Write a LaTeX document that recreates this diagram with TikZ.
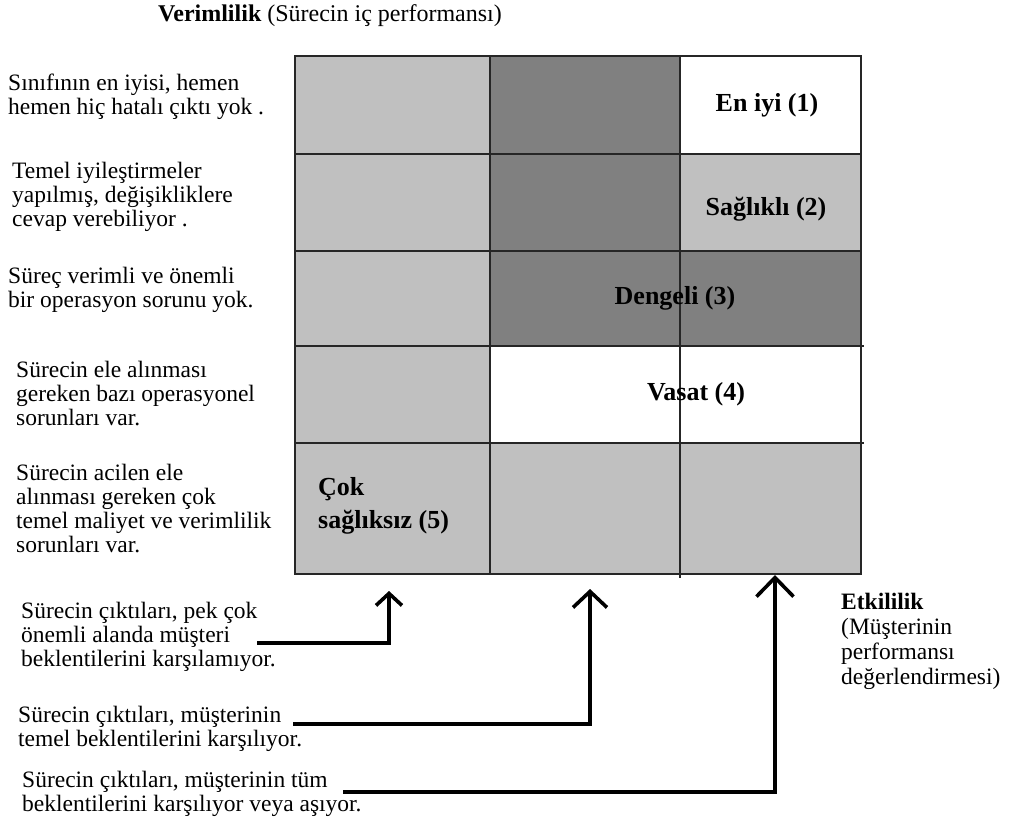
\documentclass[tikz,border=0pt]{standalone}
\usepackage{fontspec}
\setmainfont{Liberation Serif}
\usetikzlibrary{arrows.meta}
\definecolor{cellLight}{HTML}{C0C0C0}
\definecolor{cellDark}{HTML}{808080}
% multi-line nodes sit on the baseline of their last line
\tikzset{
  txt/.style={anchor=base west, inner sep=0pt, align=left,
    font=\fontsize{23.5}{24}\selectfont},
  celltxt/.style={anchor=base, inner sep=0pt,
    font=\fontsize{26}{26}\selectfont\bfseries},
  gridline/.style={line width=1.7pt, draw=black!85},
  thinline/.style={line width=1.1pt, draw=black!85},
  pointer/.style={line width=3.6pt, line cap=butt, line join=miter},
}
\begin{document}
\begin{tikzpicture}[x=1pt, y=-1pt]
\useasboundingbox (0,0) rectangle (1009,825);
\fill[white] (0,0) rectangle (1009,825);

% cell fills: columns 295|490|680|861, rows 56|154|251|346|443|574
\fill[cellLight] (295,56) rectangle (490,574);
\fill[cellDark]  (490,56) rectangle (680,346);
\fill[white]     (680,56) rectangle (861,154);
\fill[cellLight] (680,154) rectangle (861,251);
\fill[cellDark]  (680,251) rectangle (861,346);
\fill[white]     (490,346) rectangle (861,443);
\fill[cellLight] (490,443) rectangle (861,574);

% grid lines
\draw[gridline] (295,154) -- (861,154);
\draw[gridline] (295,251) -- (861,251);
\draw[gridline] (295,346) -- (864,346);
\draw[gridline] (295,443) -- (864,443);
\draw[gridline] (490,56) -- (490,574);
\draw[gridline] (680,56) -- (680,251);
\draw[thinline] (680,251) -- (680,578);
\draw[gridline] (295,56) rectangle (861,574);

% cell labels
\node[celltxt] (best)     at (767,111) {En iyi (1)};
\node[celltxt] (healthy)  at (766,215) {Sağlıklı (2)};
\node[celltxt] (balanced) at (675,304) {Dengeli (3)};
\node[celltxt] (average)  at (696,400) {Vasat (4)};
\node[txt, font=\fontsize{26}{33}\selectfont\bfseries] (unhealthy) at (318,528)
  {Çok\\sağlıksız (5)};

% axis titles
\node[txt, font=\fontsize{24}{24}\selectfont] (yaxis) at (158,21)
  {\textbf{Verimlilik} (Sürecin iç performansı)};
\node[txt, font=\fontsize{23.5}{25}\selectfont] (xaxis) at (841,684)
  {\textbf{Etkililik}\\(Müşterinin\\performansı\\değerlendirmesi)};

% row descriptions
\node[txt] (d1) at (8,114)  {Sınıfının en iyisi, hemen\\hemen hiç hatalı çıktı yok .};
\node[txt] (d2) at (12,226) {Temel iyileştirmeler\\yapılmış, değişikliklere\\cevap verebiliyor .};
\node[txt] (d3) at (8,307)  {Süreç verimli ve önemli\\bir operasyon sorunu yok.};
\node[txt] (d4) at (16,425) {Sürecin ele alınması\\gereken bazı operasyonel\\sorunları var.};
\node[txt] (d5) at (16,552) {Sürecin acilen ele\\alınması gereken çok\\temel maliyet ve verimlilik\\sorunları var.};

% column descriptions
\node[txt] (c1) at (21,666) {Sürecin çıktıları, pek çok\\önemli alanda müşteri\\beklentilerini karşılamıyor.};
\node[txt] (c2) at (18,746) {Sürecin çıktıları, müşterinin\\temel beklentilerini karşılıyor.};
\node[txt] (c3) at (22,811) {Sürecin çıktıları, müşterinin tüm\\beklentilerini karşılıyor veya aşıyor.};

% pointers from column descriptions to the grid
\coordinate (s1) at (257,643);
\coordinate (t1) at (389,591);
\coordinate (s2) at (293,724);
\coordinate (t2) at (590,589);
\coordinate (s3) at (343,792);
\coordinate (t3) at (775,575);
\draw[pointer, -{Straight Barb[length=12pt, width=26pt]}] (s1) -| (t1);
\draw[pointer, -{Straight Barb[length=16pt, width=34pt]}] (s2) -| (t2);
\draw[pointer, -{Straight Barb[length=19pt, width=37pt]}] (s3) -| (t3);
\end{tikzpicture}
\end{document}
